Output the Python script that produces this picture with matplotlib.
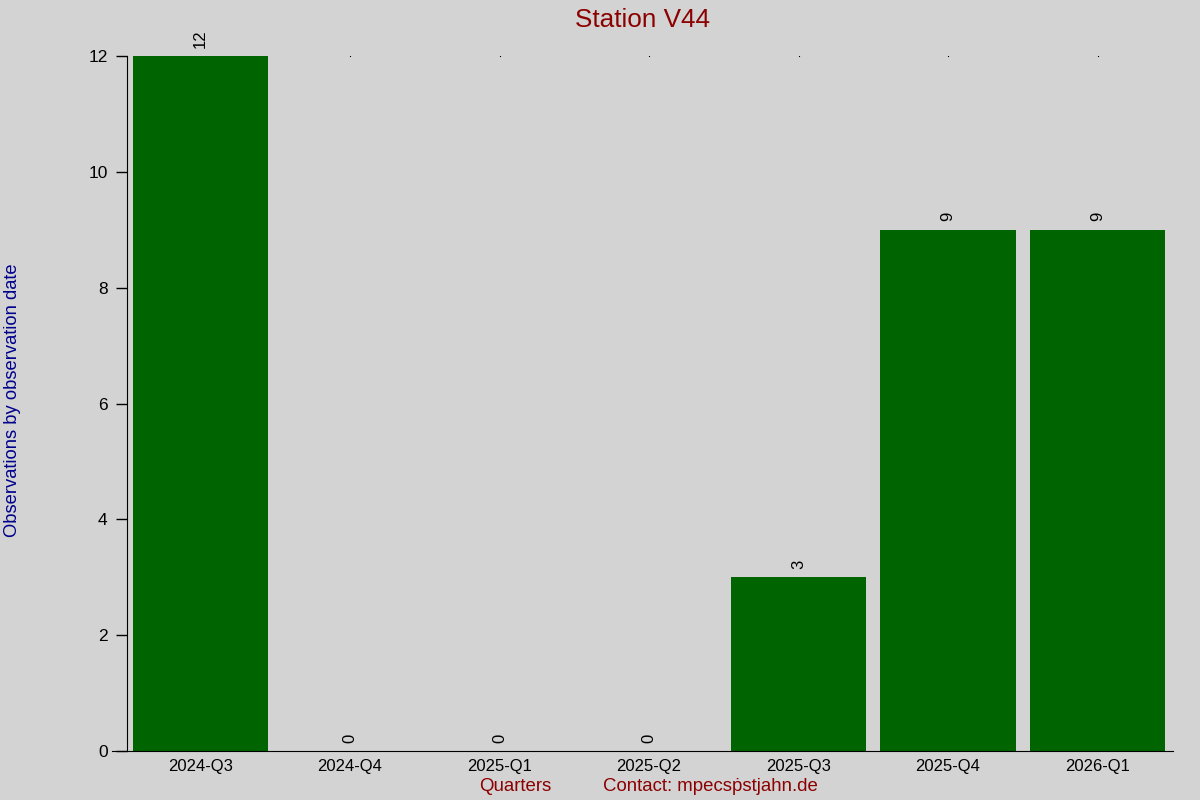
import matplotlib.pyplot as plt

plt.rcParams['font.family'] = ['Liberation Sans', 'DejaVu Sans']

quarters = ['2024-Q3', '2024-Q4', '2025-Q1', '2025-Q2', '2025-Q3', '2025-Q4', '2026-Q1']
counts = [12, 0, 0, 0, 3, 9, 9]
y_ticks = [0, 2, 4, 6, 8, 10, 12]

fig = plt.figure(figsize=(12, 8), dpi=100, facecolor='lightgray')
ax = fig.add_axes([112 / 1200, 49 / 800, 1061 / 1200, 695 / 800])
ax.set_facecolor('lightgray')

x = list(range(len(quarters)))
ymax = max(counts)
# small marks at the top of every column
ax.plot(x, [ymax] * len(x), linestyle='none', marker='s', markersize=0.8,
        markeredgewidth=0, color='black', zorder=1)
bars = ax.bar(x, counts, width=0.905, color='darkgreen', zorder=2)

for xi, c in zip(x, counts):
    ax.annotate(str(c), (xi, c), xytext=(0, 6), textcoords='offset points',
                rotation=90, ha='center', va='bottom', fontsize=12,
                color='black', clip_on=False)

ax.spines['top'].set_visible(False)
ax.spines['right'].set_visible(False)
ax.spines['left'].set_position(('data', -0.4916))
ax.spines['left'].set_bounds(0, ymax)

ax.set_xlim(-0.592, 6.505)
ax.set_ylim(0, ymax)
ax.set_xticks(x)
ax.set_xticklabels(quarters, fontsize=12)
ax.set_yticks(y_ticks)
ax.set_yticklabels([str(t) for t in y_ticks], fontsize=12.5)
ax.tick_params(axis='x', length=0, pad=6)
ax.tick_params(axis='y', length=8, width=1, pad=6)

ax.set_title('Station V44', fontsize=18.8, color='darkred', pad=21)
fig.text(0.003, 0.5, 'Observations by observation date', rotation=90,
         ha='left', va='center', fontsize=13.2, color='darkblue')
fig.text(0.4297, 0.017, 'Quarters', ha='center', va='center', fontsize=13.4,
         color='darkred')
fig.text(0.5917, 0.017, 'Contact: mpecs\u1e57stjahn.de', ha='center',
         va='center', fontsize=13.4, color='darkred')

fig.savefig('out.png', dpi=100, facecolor='lightgray')
